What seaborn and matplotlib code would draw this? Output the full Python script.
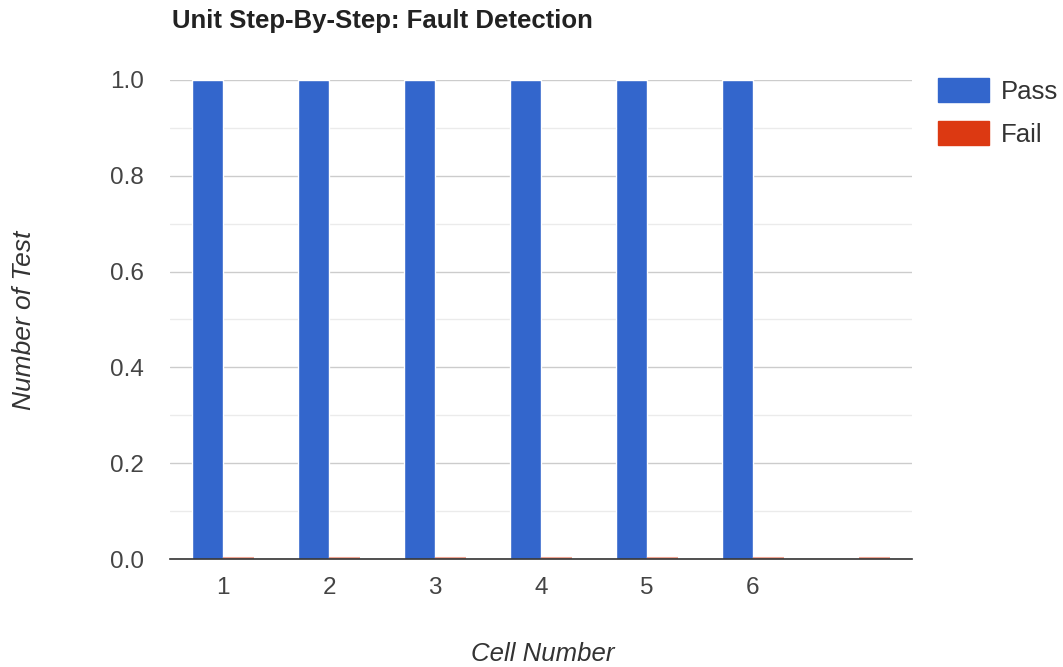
import matplotlib
matplotlib.use("Agg")
import matplotlib.pyplot as plt
import seaborn as sns
import pandas as pd
import numpy as np
from matplotlib.patches import Patch

cells = ["1", "2", "3", "4", "5", "6", ""]
pass_counts = [1, 1, 1, 1, 1, 1, np.nan]
fail_counts = [0, 0, 0, 0, 0, 0, 0]
series = ["Pass", "Fail"]
colors = ["#3366cc", "#dc3912"]

df = pd.DataFrame({
    "cell": cells * 2,
    "count": pass_counts + fail_counts,
    "result": ["Pass"] * len(cells) + ["Fail"] * len(cells),
})

sns.set_theme(style="white")
plt.rcParams["font.family"] = ["Liberation Sans", "DejaVu Sans"]

W, H = 1063, 667
fig = plt.figure(figsize=(W / 100, H / 100), dpi=100)
ax = fig.add_axes([170/W, 1-559/H, (912-170)/W, (559-80)/H])

sns.barplot(data=df, x="cell", y="count", hue="result", order=cells,
            hue_order=series, palette=colors, width=0.58, ax=ax,
            saturation=1, legend=False, errorbar=None, zorder=3)

# zero-valued bars drawn as thin lines
for cont, col in zip(ax.containers, colors):
    for bar in cont:
        h = bar.get_height()
        if h == 0:
            x0 = bar.get_x()
            ax.plot([x0, x0 + bar.get_width()], [0.002, 0.002], color=col,
                    alpha=0.45, lw=1.5, zorder=4, solid_capstyle="butt")

ax.set_ylim(0, 1.0)
ax.set_xlim(-0.5, len(cells) - 0.5)
yt = np.arange(0, 1.01, 0.2)
ax.set_yticks(yt)
ax.set_yticklabels([f"{v:.1f}" for v in yt])
ax.set_yticks(np.arange(0.1, 1.0, 0.2), minor=True)
ax.grid(axis="y", which="major", color="#cccccc", lw=1, zorder=0)
ax.grid(axis="y", which="minor", color="#ebebeb", lw=1, zorder=0)
ax.grid(axis="x", visible=False)
for s in ["top", "right", "left"]:
    ax.spines[s].set_visible(False)
ax.spines["bottom"].set_color("#333333")
ax.spines["bottom"].set_linewidth(1.2)
ax.spines["bottom"].set_zorder(5)
ax.tick_params(axis="both", which="both", length=0, labelsize=17.5, labelcolor="#444444")
ax.tick_params(axis="x", pad=13)
ax.tick_params(axis="y", pad=19)
ax.set_xlabel("")
ax.set_ylabel("")

fig.text(543/W, 1-654/H, "Cell Number", fontsize=18.5, style="italic",
         color="#333333", ha="center", va="center")
fig.text(24/W, 1-320/H, "Number of Test", fontsize=19, style="italic",
         color="#333333", ha="center", va="center", rotation=90)
fig.text(172/W, 1-21/H, "Unit Step-By-Step: Fault Detection", fontsize=18.5,
         fontweight="bold", color="#222222", va="center", ha="left")

handles = [Patch(facecolor=c, edgecolor=c) for c in colors]
fig.legend(handles, series, loc="upper left", bbox_to_anchor=(938/W, 1-78/H),
           frameon=False, fontsize=18.5, handlelength=2.0, handleheight=1.05,
           labelspacing=0.68, handletextpad=0.45, borderpad=0, borderaxespad=0,
           labelcolor="#333333")

fig.savefig("out.png", dpi=100)
